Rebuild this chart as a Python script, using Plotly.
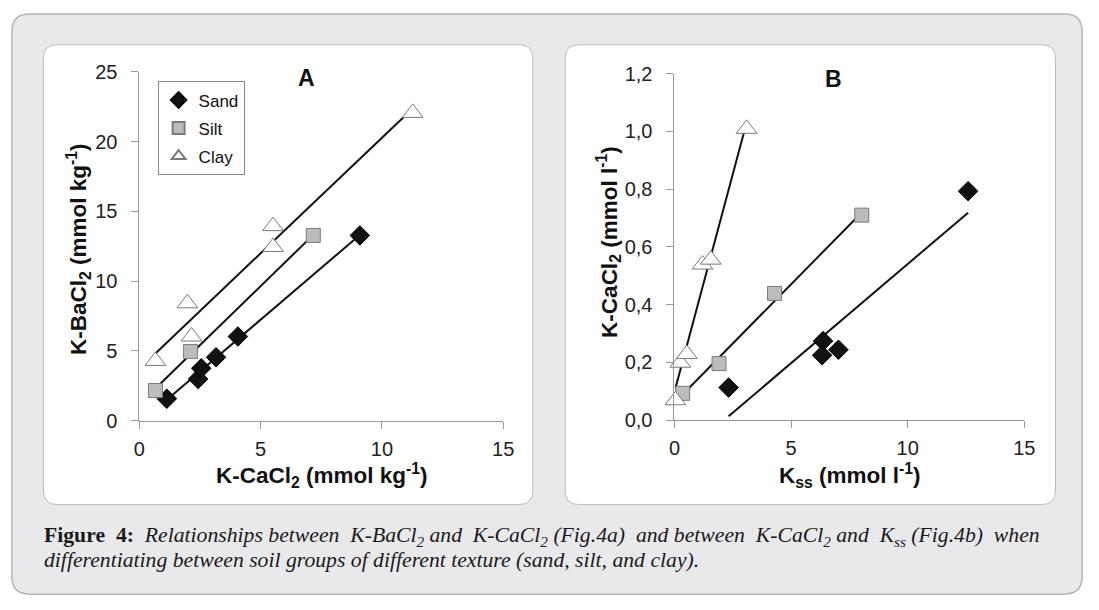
import numpy as np
import plotly.graph_objects as go

W, H = 1099, 610

# ---- Data ----
# Panel A: K-CaCl2 (x) vs K-BaCl2 (y), mmol/kg
a_sand_x = [1.13, 2.42, 2.55, 3.16, 4.06, 9.09]
a_sand_y = [1.57, 2.99, 3.75, 4.54, 6.03, 13.27]
a_silt_x = [0.66, 2.11, 7.17]
a_silt_y = [2.16, 4.95, 13.27]
a_clay_x = [0.66, 1.98, 2.15, 5.51, 5.51, 11.27]
a_clay_y = [4.28, 8.41, 6.03, 12.44, 13.94, 22.05]

# Panel B: Kss (x) vs K-CaCl2 (y), mmol/l
b_sand_x = [2.32, 6.37, 6.33, 7.03, 12.59]
b_sand_y = [0.113, 0.274, 0.225, 0.244, 0.793]
b_silt_x = [0.35, 1.91, 4.29, 8.03]
b_silt_y = [0.093, 0.196, 0.439, 0.710]
b_clay_x = [0.04, 0.25, 0.53, 1.20, 1.56, 3.09]
b_clay_y = [0.069, 0.199, 0.229, 0.539, 0.556, 1.009]

a_xticks = [0, 5, 10, 15]
a_yticks = [0, 5, 10, 15, 20, 25]
b_xticks = [0, 5, 10, 15]
b_yticks = [0.0, 0.2, 0.4, 0.6, 0.8, 1.0, 1.2]
b_yticklabels = ["0,0", "0,2", "0,4", "0,6", "0,8", "1,0", "1,2"]

series_names = ["Sand", "Silt", "Clay"]


def px(x):
    return x / W


def py(y):
    return 1 - y / H


def rrect(x0, y0, x1, y1, r):
    pts = [
        ("M", [(x0 + r, y0)]), ("L", [(x1 - r, y0)]), ("Q", [(x1, y0), (x1, y0 + r)]),
        ("L", [(x1, y1 - r)]), ("Q", [(x1, y1), (x1 - r, y1)]),
        ("L", [(x0 + r, y1)]), ("Q", [(x0, y1), (x0, y1 - r)]),
        ("L", [(x0, y0 + r)]), ("Q", [(x0, y0), (x0 + r, y0)]),
    ]
    s = ""
    for cmd, coords in pts:
        s += cmd + " " + " ".join(f"{px(a):.5f},{py(b):.5f}" for a, b in coords) + " "
    return s + "Z"


styles = {
    "Sand": dict(symbol="diamond", size=15, color="#111111", line=dict(color="#000000", width=1)),
    "Silt": dict(symbol="square", size=14, color="#bcbcbe", line=dict(color="#7a7a7a", width=1)),
    "Clay": dict(symbol="triangle-up", size=18, color="#ffffff", line=dict(color="#7a7a7a", width=1)),
}

line_traces = []
marker_traces = []


def add_panel(xs, ys, xaxis, yaxis, showlegend):
    for name, x, y in zip(series_names, xs, ys):
        marker_traces.append(go.Scatter(
            x=x, y=y, mode="markers", name=name, marker=styles[name],
            xaxis=xaxis, yaxis=yaxis, showlegend=showlegend, legendgroup=name,
            cliponaxis=False,
        ))
        k, b = np.polyfit(x, y, 1)
        lx = np.array([min(x), max(x)])
        line_traces.append(go.Scatter(
            x=lx, y=k * lx + b, mode="lines", line=dict(color="#111111", width=2),
            xaxis=xaxis, yaxis=yaxis, showlegend=False, hoverinfo="skip", cliponaxis=False,
        ))


add_panel([a_sand_x, a_silt_x, a_clay_x], [a_sand_y, a_silt_y, a_clay_y], "x", "y", True)
add_panel([b_sand_x, b_silt_x, b_clay_x], [b_sand_y, b_silt_y, b_clay_y], "x2", "y2", False)

fig = go.Figure(data=line_traces + marker_traces)

sans = "Arial, Liberation Sans, sans-serif"
axis_common = dict(
    showgrid=False, zeroline=False, showline=True, linecolor="#9a9a9a", linewidth=1,
    ticks="outside", ticklen=7, tickcolor="#9a9a9a", tickwidth=1,
    tickfont=dict(family=sans, size=20, color="#222222"),
)
xax = dict(ticklabelstandoff=3, **axis_common)
yax = dict(ticklabelstandoff=10, **axis_common)

fig.update_layout(
    width=W, height=H,
    margin=dict(l=0, r=0, t=0, b=0),
    paper_bgcolor="#ffffff", plot_bgcolor="rgba(0,0,0,0)",
    xaxis=dict(domain=[px(135.5), px(505)], range=[0, 15], tickvals=a_xticks, anchor="y", **xax),
    yaxis=dict(domain=[py(425), py(63)], range=[0, 25], tickvals=a_yticks, anchor="x", **yax),
    xaxis2=dict(domain=[px(679), px(1034.3)], range=[0, 15], tickvals=b_xticks, anchor="y2", **xax),
    yaxis2=dict(domain=[py(424.5), py(65)], range=[0, 1.2], tickvals=b_yticks, ticktext=b_yticklabels,
                anchor="x2", **yax),
    legend=dict(
        x=px(154), y=py(73), xanchor="left", yanchor="top",
        bgcolor="#ffffff", bordercolor="#8a8a8a", borderwidth=1,
        font=dict(family=sans, size=17, color="#111111"),
        itemwidth=30, itemsizing="constant", tracegroupgap=3, traceorder="grouped",
    ),
    showlegend=True,
)

shapes = [
    dict(type="path", path=rrect(6, 3, 1093, 605, 18), xref="paper", yref="paper",
         fillcolor="#e9e9eb", line=dict(color="#b5b5b5", width=1.5), layer="below"),
    dict(type="path", path=rrect(38, 35, 535, 512, 14), xref="paper", yref="paper",
         fillcolor="#ffffff", line=dict(color="#bdbdbd", width=1), layer="below"),
    dict(type="path", path=rrect(568, 35, 1066, 512, 14), xref="paper", yref="paper",
         fillcolor="#ffffff", line=dict(color="#bdbdbd", width=1), layer="below"),
]
fig.update_layout(shapes=shapes)

bold = dict(family=sans, size=22.5, color="#111111")
ann = [
    dict(text="<b>A</b>", x=px(305), y=py(69), font=dict(family=sans, size=23, color="#111111")),
    dict(text="<b>B</b>", x=px(840), y=py(71), font=dict(family=sans, size=23, color="#111111")),
    dict(text="<b>K-CaCl<sub>2</sub> (mmol kg<sup>-1</sup>)</b>", x=px(321), y=py(482), font=bold),
    dict(text="<b>K<sub>ss</sub> (mmol l<sup>-1</sup>)</b>", x=px(857), y=py(482), font=bold),
    dict(text="<b>K-BaCl<sub>2</sub> (mmol kg<sup>-1</sup>)</b>", x=px(73), y=py(247), textangle=-90, font=bold),
    dict(text="<b>K-CaCl<sub>2</sub> (mmol l<sup>-1</sup>)</b>", x=px(612), y=py(240), textangle=-90, font=bold),
]
for a in ann:
    a.update(xref="paper", yref="paper", showarrow=False, xanchor="center", yanchor="middle")

cap_font = dict(family="Liberation Serif, Times New Roman, serif", size=21.7, color="#1a1a1a")
line1_words = ["Relationships", "between", "K-BaCl<sub>2</sub>", "and", "K-CaCl<sub>2</sub>", "(Fig.4a)",
               "and", "between", "K-CaCl<sub>2</sub>", "and", "K<sub>ss</sub>", "(Fig.4b)", "when"]
seps = [" ", "&nbsp; ", " ", "&nbsp; ", " ", "&nbsp; ", " ", "&nbsp; ", " ", "&nbsp; ", " ", "&nbsp; "]
body1 = line1_words[0]
for s, w in zip(seps, line1_words[1:]):
    body1 += s + w
line1 = "<b>Figure&nbsp; 4:</b>&nbsp; <i>" + body1 + "</i>"
ann += [
    dict(text=line1,
         x=px(37), y=py(545), xref="paper", yref="paper", showarrow=False, xanchor="left", yanchor="middle",
         font=cap_font),
    dict(text="<i>differentiating between soil groups of different texture (sand, silt, and clay).</i>",
         x=px(37), y=py(570), xref="paper", yref="paper", showarrow=False, xanchor="left", yanchor="middle",
         font=cap_font),
]
fig.update_layout(annotations=ann)

fig.write_html("out.html",
               post_script="document.body.style.margin='0';document.body.style.padding='0';")
